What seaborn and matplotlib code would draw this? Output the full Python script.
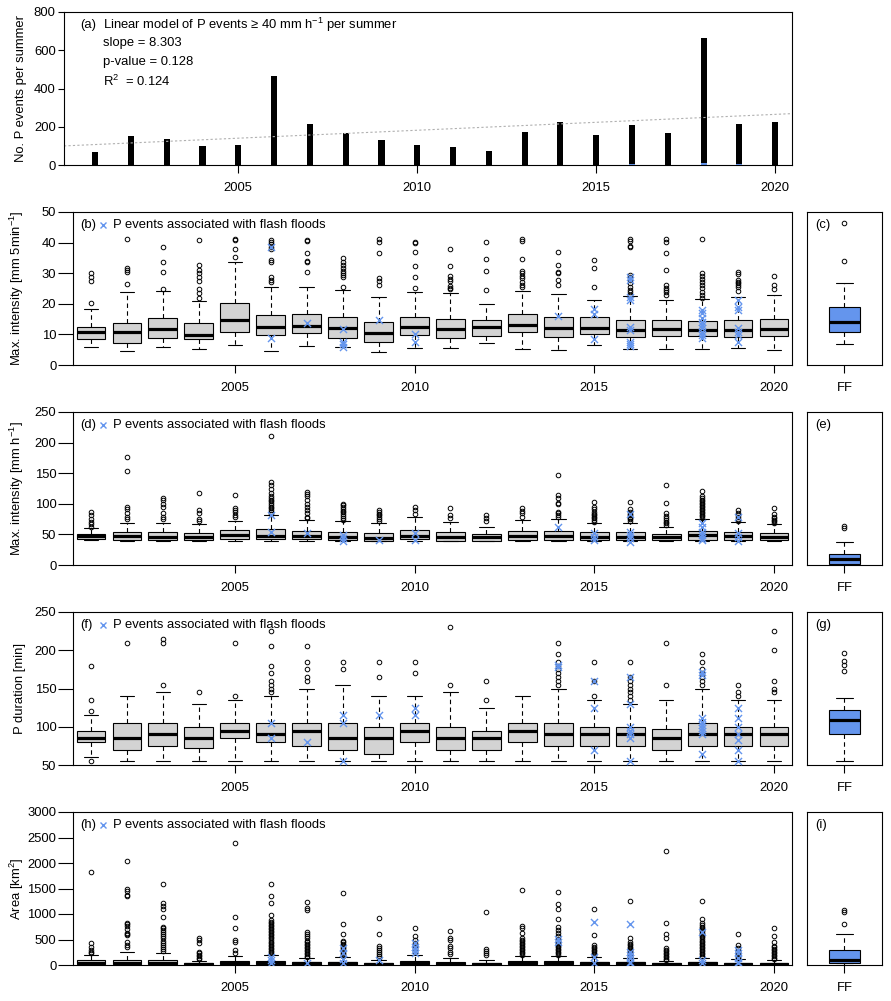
import matplotlib
matplotlib.use("Agg")
import matplotlib.pyplot as plt
import seaborn as sns

BLUE = "#6495ED"
GREY = "#D3D3D3"

years = [2001, 2002, 2003, 2004, 2005, 2006, 2007, 2008, 2009, 2010,
         2011, 2012, 2013, 2014, 2015, 2016, 2017, 2018, 2019, 2020]
year_ticks = [2005, 2010, 2015, 2020]

# (a) P events >= 40 mm/h per summer, and the ones linked to flash floods
events_total = [70, 152, 136, 101, 105, 466, 215, 169, 131, 105,
                94, 73, 173, 225, 157, 209, 167, 665, 215, 225]
events_ff = [0, 0, 0, 0, 0, 0, 0, 0, 0, 0,
             0, 0, 0, 0, 0, 4, 0, 10, 4, 0]
trend_slope = 8.303
trend_at_2001 = 107
lm_pvalue = 0.128
lm_r2 = 0.124

# (b) max. intensity [mm 5min-1]
b_q1 = [8.4, 7.3, 8.9, 8.4, 10.9, 9.7, 10.3, 8.7, 7.6, 9.7, 8.7, 9.5, 10.7, 9.0, 10.0, 9.0, 9.5, 9.4, 9.0, 9.4]
b_med = [10.8, 10.7, 11.8, 9.9, 14.6, 12.3, 12.9, 12.1, 10.3, 12.3, 11.8, 12.4, 13.0, 12.1, 12.1, 11.3, 11.7, 11.4, 11.3, 11.8]
b_q3 = [12.5, 13.8, 15.3, 13.6, 20.2, 16.2, 16.6, 15.6, 14.2, 15.8, 15.0, 14.7, 16.7, 15.7, 15.7, 14.6, 14.6, 14.3, 14.6, 15.0]
b_lo = [6.0, 4.7, 6.0, 5.1, 6.4, 4.7, 6.2, 5.8, 4.4, 5.4, 5.4, 7.1, 5.1, 4.8, 6.4, 5.2, 5.2, 5.2, 5.6, 4.8]
b_hi = [18.2, 23.7, 24.2, 20.9, 33.6, 25.4, 25.4, 24.5, 22.3, 23.7, 23.4, 19.8, 24.2, 23.1, 21.2, 22.4, 21.2, 21.6, 22.2, 22.8]
b_out = [
    [20.4, 27.6, 28.9, 30.0],
    [26.6, 30.3, 31.0, 31.8, 41.3],
    [24.8, 30.5, 33.8, 38.7],
    [21.8, 23.4, 24.7, 27.6, 28.6, 30.0, 31.0, 32.7, 40.8],
    [35.4, 38.0, 40.8, 41.3],
    [27.2, 27.8, 28.9, 33.7, 34.3, 37.9, 38.7, 39.4, 40.2, 40.8],
    [30.5, 33.6, 34.1, 36.5, 40.5, 40.8],
    [25.6, 28.9, 29.4, 30.0, 30.7, 31.6, 32.7, 33.7, 34.9],
    [26.1, 27.5, 28.3, 36.7, 40.1, 41.3],
    [25.1, 28.9, 32.4, 37.0, 40.0, 40.3],
    [24.8, 25.3, 25.8, 27.5, 28.2, 29.1, 32.5, 38.0],
    [24.6, 30.8, 34.7, 40.2],
    [25.4, 26.1, 27.2, 28.3, 29.1, 30.0, 30.8, 34.7, 40.6, 41.3],
    [26.1, 27.8, 30.2, 30.5, 32.8, 37.0],
    [25.6, 31.8, 34.3],
    [22.9, 23.7, 24.5, 25.6, 26.7, 27.8, 28.6, 29.4, 38.7, 38.9, 40.6, 41.1],
    [22.9, 23.7, 24.5, 25.3, 26.1, 31.0, 36.7, 40.2, 41.3],
    [22.0, 23.0, 24.0, 25.0, 26.0, 27.0, 28.0, 29.0, 30.0, 41.3],
    [24.3, 25.4, 26.1, 26.7, 27.2, 27.8, 29.7, 30.5],
    [24.8, 26.3, 29.0],
]
b_ff = [
    [], [], [], [], [], [8.7, 38.7], [13.6], [5.8, 6.9, 7.6, 11.7], [14.7], [7.6, 10.0],
    [], [], [], [16.0], [8.4, 16.7, 18.2],
    [6.2, 6.9, 7.6, 11.4, 12.5, 21.2, 22.1, 27.8, 28.9], [],
    [8.7, 9.8, 10.9, 12.0, 13.1, 14.2, 15.3, 16.9, 18.0],
    [7.6, 9.8, 10.9, 12.0, 18.0, 19.1, 21.2], [],
]
# (c) flash flood events
c_stats = [6.8, 10.9, 14.1, 18.8, 26.7]
c_out = [34.1, 46.3]

# (d) max. intensity [mm h-1]
d_q1 = [43.0, 41.4, 41.4, 41.4, 43.0, 41.9, 41.9, 41.4, 39.8, 41.9, 39.8, 39.8, 41.4, 41.4, 41.4, 41.4, 41.4, 41.4, 41.4, 41.4]
d_med = [46.8, 46.8, 46.3, 46.3, 49.6, 46.8, 47.9, 46.3, 43.6, 47.9, 46.3, 46.3, 47.4, 47.4, 46.3, 46.3, 45.8, 49.0, 47.4, 46.3]
d_q3 = [50.1, 53.4, 53.4, 51.7, 56.6, 58.8, 55.5, 53.4, 51.7, 57.2, 53.4, 50.7, 55.5, 55.5, 53.9, 53.4, 50.1, 55.5, 53.9, 51.7]
d_lo = [40.3, 38.7, 38.7, 38.7, 38.7, 38.7, 38.7, 38.7, 38.7, 38.7, 38.7, 38.7, 38.7, 38.7, 38.7, 38.7, 38.7, 38.7, 38.7, 38.7]
d_hi = [59.9, 68.1, 68.1, 66.4, 71.4, 81.7, 73.5, 71.4, 69.2, 77.9, 69.7, 62.6, 73.5, 75.2, 68.1, 69.2, 62.6, 75.2, 69.7, 66.4]
d_out = [
    [62.6, 67.0, 70.8, 74.6, 81.7, 87.0],
    [74.6, 79.0, 84.4, 91.0, 94.2, 154, 177],
    [74.6, 79.0, 84.4, 95.3, 99.7, 107, 110],
    [72.4, 75.7, 84.4, 89.9, 118],
    [79.0, 81.7, 86.0, 89.9, 92.6, 114],
    [84, 87, 90, 93, 95, 98, 101, 104, 106, 109, 112, 117, 124, 131, 136, 210],
    [76, 79, 84.4, 90, 95, 100, 106, 112, 116, 119],
    [74, 77, 80, 83, 86, 89, 92, 95, 98, 99.7],
    [72, 75, 78, 81, 84, 87, 90],
    [82.8, 90, 95.3],
    [76.3, 81.7, 92.6],
    [72.4, 76.3, 81.7],
    [79, 84.4, 88.2, 92.6],
    [78, 81.7, 84.4, 87, 100, 101, 110, 115, 147],
    [71, 74, 76.3, 79, 81.7, 84, 87, 91, 94.2, 103.5],
    [72, 74.6, 77, 79, 81, 82.8, 87, 91, 103.5],
    [65.4, 68.1, 70, 73.5, 76, 80, 85.5, 102, 130],
    [77, 80, 82, 85, 87, 90, 92, 95, 97, 100, 102, 105, 107, 110, 112, 121],
    [72, 75, 79, 81.7, 85.5, 89.9],
    [69.2, 72.4, 74, 76.3, 79, 82.8, 92.6],
]
d_ff = [
    [], [], [], [], [], [54.5, 81.7], [51.7], [39.2, 43.6, 49.0], [40.8], [40.8, 51.7],
    [], [], [], [62.6], [40.8, 46.3, 51.7], [38.1, 43.6, 49.0, 54.5, 82.8], [],
    [40.8, 43.6, 49.0, 54.5, 62.6, 68.1], [39.8, 46.3, 52.8, 79.0], [],
]
e_stats = [0.2, 1.0, 9.8, 18.0, 38.0]
e_out = [60.0, 63.7]

# (f) P duration [min]
f_q1 = [80, 70, 75, 72, 85, 80, 75, 70, 65, 80, 70, 70, 80, 75, 75, 75, 70, 75, 75, 75]
f_med = [85, 85, 90, 85, 95, 90, 95, 85, 85, 95, 85, 85, 95, 90, 90, 90, 85, 90, 90, 90]
f_q3 = [95, 105, 105, 100, 105, 105, 105, 105, 100, 105, 100, 95, 105, 105, 100, 100, 97, 105, 100, 100]
f_lo = [60, 55, 55, 55, 55, 55, 55, 55, 55, 55, 55, 55, 55, 55, 55, 55, 55, 55, 55, 55]
f_hi = [115, 140, 145, 130, 135, 140, 150, 155, 140, 140, 145, 125, 140, 150, 135, 130, 135, 150, 135, 135]
f_out = [
    [55, 120, 135, 180],
    [210],
    [155, 210, 215],
    [145],
    [140, 210],
    [145, 150, 155, 160, 170, 180, 205, 225],
    [160, 165, 175, 185, 205],
    [175, 185],
    [165, 185],
    [170, 185],
    [155, 230],
    [135, 160],
    [],
    [155, 160, 165, 170, 175, 180, 185, 195, 210],
    [140, 160, 185],
    [135, 140, 145, 150, 155, 160, 165, 185],
    [155, 210],
    [155, 160, 165, 170, 175, 185, 195],
    [140, 145, 155],
    [145, 150, 160, 200, 225],
]
f_ff = [
    [], [], [], [], [], [85, 105], [80], [55, 105, 115], [115], [115, 125],
    [], [], [], [178, 181], [70, 125, 160], [55, 85, 90, 95, 100, 130, 165], [],
    [65, 90, 94, 98, 102, 106, 111, 168, 172], [55, 70, 83, 90, 100, 111, 125], [],
]
g_stats = [55, 91, 109, 122, 138]
g_out = [173, 181, 186, 196]

# (h) area [km2]
h_q1 = [15, 10, 12, 8, 12, 12, 8, 8, 6, 10, 8, 6, 10, 10, 8, 8, 6, 8, 6, 6]
h_med = [45, 45, 45, 25, 45, 45, 30, 30, 20, 40, 26, 20, 40, 40, 33, 33, 20, 33, 20, 20]
h_q3 = [100, 100, 100, 45, 80, 80, 60, 60, 40, 80, 60, 40, 72, 72, 60, 60, 40, 60, 40, 40]
h_lo = [2, 2, 2, 2, 2, 2, 2, 2, 2, 2, 2, 2, 2, 2, 2, 2, 2, 2, 2, 2]
h_hi = [196, 250, 230, 80, 177, 196, 130, 150, 98, 196, 130, 92, 177, 177, 157, 130, 72, 130, 111, 92]
h_out = [
    [229, 262, 295, 360, 425, 1830],
    [350, 400, 450, 580, 600, 620, 700, 760, 800, 830, 1350, 1380, 1450, 1500, 2030],
    [280, 320, 360, 400, 440, 480, 520, 560, 600, 640, 680, 720, 750, 950, 1090, 1160, 1210, 1580],
    [110, 140, 170, 200, 230, 260, 425, 490, 536],
    [242, 294, 458, 490, 733, 950, 2400],
    [220, 250, 280, 310, 340, 370, 400, 430, 460, 490, 520, 550, 580, 610, 640, 670, 700, 730,
     760, 790, 820, 850, 883, 981, 1223, 1354, 1580],
    [150, 180, 210, 240, 270, 300, 330, 360, 390, 420, 450, 480, 520, 560, 600, 654, 1080, 1112, 1242],
    [180, 210, 240, 270, 300, 330, 360, 390, 420, 450, 480, 608, 804, 1420],
    [140, 180, 220, 260, 300, 340, 373, 608, 929],
    [260, 300, 340, 380, 425, 490, 569, 733],
    [209, 262, 327, 380, 490, 536, 667],
    [196, 242, 281, 314, 1046],
    [200, 230, 260, 290, 320, 350, 380, 410, 440, 470, 500, 530, 634, 733, 772, 1478],
    [200, 230, 260, 290, 320, 350, 380, 410, 440, 470, 504, 560, 620, 680, 752, 896, 1092, 1190, 1439],
    [180, 210, 240, 270, 300, 330, 360, 390, 595, 1092],
    [150, 180, 210, 240, 270, 300, 330, 360, 390, 420, 450, 523, 1262],
    [90, 120, 150, 180, 210, 240, 270, 300, 330, 523, 608, 830, 2243],
    [150, 180, 210, 240, 270, 300, 330, 360, 390, 420, 450, 480, 510, 540, 570, 600, 630, 660,
     690, 720, 750, 780, 830, 896, 1262],
    [130, 160, 190, 220, 250, 280, 327, 392, 608],
    [110, 140, 170, 200, 230, 260, 290, 320, 350, 380, 458, 569, 733],
]
h_ff = [
    [], [], [], [], [], [45, 98, 164], [45], [33, 111, 229, 327], [98], [229, 294, 360, 425],
    [], [], [], [458, 504], [45, 164, 850], [33, 65, 130, 196, 262, 811], [],
    [33, 98, 654], [33, 65, 130, 229, 294], [],
]
i_stats = [0, 33, 90, 288, 602]
i_out = [811, 1046, 1080]

panels = [
    ("b", "c", "Max. intensity [mm 5min$^{-1}$]", (0, 50), [0, 10, 20, 30, 40, 50],
     (b_q1, b_med, b_q3, b_lo, b_hi, b_out), b_ff, c_stats, c_out),
    ("d", "e", "Max. intensity [mm h$^{-1}$]", (0, 250), [0, 50, 100, 150, 200, 250],
     (d_q1, d_med, d_q3, d_lo, d_hi, d_out), d_ff, e_stats, e_out),
    ("f", "g", "P duration [min]", (50, 250), [50, 100, 150, 200, 250],
     (f_q1, f_med, f_q3, f_lo, f_hi, f_out), f_ff, g_stats, g_out),
    ("h", "i", "Area [km$^2$]", (0, 3000), [0, 500, 1000, 1500, 2000, 2500, 3000],
     (h_q1, h_med, h_q3, h_lo, h_hi, h_out), h_ff, i_stats, i_out),
]
panel_tops = [212, 412, 612, 812]

FS = 9.4
sns.set_theme(style="ticks", rc={
    "axes.edgecolor": "black", "axes.linewidth": 0.8,
    "xtick.color": "black", "ytick.color": "black",
    "text.color": "black", "axes.labelcolor": "black",
    "font.size": FS, "axes.labelsize": FS,
    "xtick.labelsize": FS, "ytick.labelsize": FS,
})
plt.rcParams["font.family"] = ["Liberation Sans", "DejaVu Sans"]
plt.rcParams["mathtext.fontset"] = "custom"
plt.rcParams["mathtext.rm"] = "Liberation Sans"
plt.rcParams["mathtext.it"] = "Liberation Sans:italic"
plt.rcParams["mathtext.default"] = "regular"

W, H = 891, 1001
fig = plt.figure(figsize=(W / 100, H / 100), dpi=100)


def rect(left, top, right, bottom):
    return [left / W, 1 - bottom / H, (right - left) / W, (bottom - top) / H]


box_kw = dict(
    patch_artist=True, manage_ticks=False,
    boxprops=dict(edgecolor="black", linewidth=0.8),
    medianprops=dict(color="black", linewidth=2.3, solid_capstyle="butt"),
    whiskerprops=dict(color="black", linewidth=0.8, linestyle=(0, (4, 3))),
    capprops=dict(color="black", linewidth=0.8),
    flierprops=dict(marker="o", markerfacecolor="none", markeredgecolor="black",
                    markersize=3.3, markeredgewidth=0.7),
)

# ---- panel (a)
ax = fig.add_axes(rect(64, 12, 792, 165))
sns.barplot(x=years, y=events_total, native_scale=True, width=0.17, color="black",
            saturation=1, linewidth=0, errorbar=None, ax=ax)
sns.barplot(x=years, y=events_ff, native_scale=True, width=0.17, color=BLUE,
            saturation=1, linewidth=0, errorbar=None, ax=ax)
ax.axline((2001, trend_at_2001), slope=trend_slope, color="#b0b0b0", lw=0.8, ls=(0, (2, 2)))
ax.set_xlim(2000.13, 2020.47)
ax.set_ylim(0, 800)
ax.set_xticks(year_ticks)
ax.set_xticklabels([str(y) for y in year_ticks])
ax.set_yticks([0, 200, 400, 600, 800])
ax.set_yticklabels(["0", "200", "400", "600", "800"])
ax.tick_params(axis="y", length=4.5, width=0.8, pad=1.5, left=True)
ax.tick_params(axis="x", length=5.8, width=0.8, pad=6.5, bottom=True)
ax.set_xlabel("")
ax.set_ylabel("No. P events per summer")
ax.yaxis.set_label_coords(-0.051, 0.5)
ax.text(0.022, 0.915, "(a)", transform=ax.transAxes, va="center", ha="left")
ax.text(0.0536, 0.915, "Linear model of P events \u2265 40 mm h$^{-1}$ per summer",
        transform=ax.transAxes, va="center", ha="left")
ax.text(0.0536, 0.797, f"slope = {trend_slope}", transform=ax.transAxes, va="center")
ax.text(0.0536, 0.673, f"p-value = {lm_pvalue}", transform=ax.transAxes, va="center")
ax.text(0.0536, 0.549, f"R$^2$  = {lm_r2}", transform=ax.transAxes, va="center")

# ---- boxplot panels
for (tag, side_tag, ylabel, ylim, yticks, cols, ff, s_stats, s_out), top in zip(panels, panel_tops):
    q1, med, q3, lo, hi, out = cols
    stats = [dict(q1=a, med=m, q3=c, whislo=l, whishi=h, fliers=f)
             for a, m, c, l, h, f in zip(q1, med, q3, lo, hi, out)]

    ax = fig.add_axes(rect(73, top, 792, top + 153))
    bp = ax.bxp(stats, positions=years, widths=0.8, capwidths=0.4, **box_kw)
    for patch in bp["boxes"]:
        patch.set_facecolor(GREY)
    ff_x = [y for y, vals in zip(years, ff) for _ in vals]
    ff_y = [v for vals in ff for v in vals]
    sns.scatterplot(x=ff_x, y=ff_y, marker="x", color=BLUE, s=26, linewidth=1.0,
                    zorder=5, ax=ax)
    ax.set_xlim(2000.5, 2020.5)
    ax.set_ylim(*ylim)
    ax.set_xticks(year_ticks)
    ax.set_xticklabels([str(y) for y in year_ticks])
    ax.set_yticks(yticks)
    ax.set_yticklabels([str(v) for v in yticks])
    ax.tick_params(axis="y", length=10.5, width=0.8, pad=1.5, left=True)
    ax.tick_params(axis="x", length=5.8, width=0.8, pad=6.5, bottom=True)
    ax.set_ylabel(ylabel)
    ax.yaxis.set_label_coords(-0.065, 0.5)
    ax.text(0.0097, 0.915, f"({tag})", transform=ax.transAxes, va="center", ha="left")
    ax.plot([0.0417], [0.915], marker="x", color=BLUE, ms=5, mew=1.0,
            transform=ax.transAxes, clip_on=False)
    ax.text(0.0556, 0.915, "P events associated with flash floods",
            transform=ax.transAxes, va="center", ha="left")

    # flash-flood side panel
    sax = fig.add_axes(rect(807, top, 882, top + 153))
    lo_s, q1_s, med_s, q3_s, hi_s = s_stats
    sbp = sax.bxp([dict(q1=q1_s, med=med_s, q3=q3_s, whislo=lo_s, whishi=hi_s, fliers=s_out)],
                  positions=[1], widths=0.41, capwidths=0.22, **box_kw)
    sbp["boxes"][0].set_facecolor(BLUE)
    sax.set_xlim(0.5, 1.5)
    sax.set_ylim(*ylim)
    sax.set_yticks([])
    sax.set_xticks([1])
    sax.set_xticklabels(["FF"])
    sax.tick_params(axis="x", length=5.8, width=0.8, pad=6.5, bottom=True)
    sax.text(0.107, 0.915, f"({side_tag})", transform=sax.transAxes, va="center", ha="left")

fig.savefig("out.png", dpi=100)
